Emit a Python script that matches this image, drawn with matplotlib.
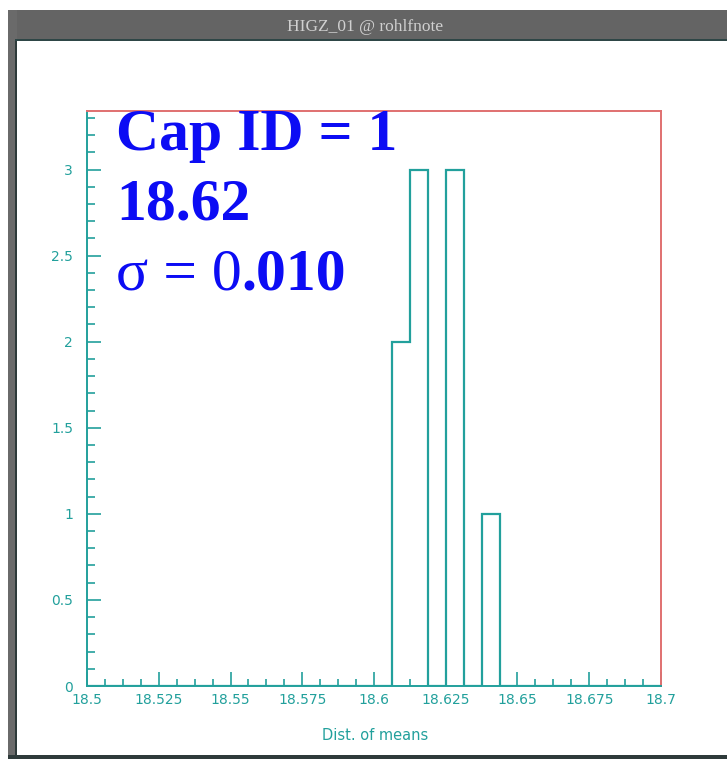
import numpy as np
import matplotlib
matplotlib.use("Agg")
from matplotlib import pyplot as plt
from matplotlib.patches import Rectangle
from matplotlib.ticker import MultipleLocator

# histogram of the means, 32 bins between 18.5 and 18.7
bin_lo = 18.5
bin_hi = 18.7
nbins = 32
counts = [0]*17 + [2, 3, 0, 3, 0, 1] + [0]*9

ymax = 3.34
xticks = [18.5, 18.525, 18.55, 18.575, 18.6, 18.625, 18.65, 18.675, 18.7]
xticklabels = ["18.5", "18.525", "18.55", "18.575", "18.6", "18.625", "18.65", "18.675", "18.7"]
yticks = [0, 0.5, 1, 1.5, 2, 2.5, 3]
yticklabels = ["0", "0.5", "1", "1.5", "2", "2.5", "3"]

title_txt = "HIGZ_01 @ rohlfnote"
xlabel_txt = "Dist. of means"
cap_txt = "Cap ID = 1"
mean_txt = "18.62"

teal = "#22a09c"
blue = "#0c0cf4"

W, H = 727, 761
fig = plt.figure(figsize=(W/100, H/100), dpi=100)

def px(x, y, w, h):
    # pixel box (from top-left) -> figure fraction
    return (x/W, 1 - (y + h)/H, w/W, h/H)

# window chrome
for (x, y, w, h, c) in [(8, 10, 719, 31, "#646464"), (8, 10, 9, 748, "#6a6a6a"),
                        (8, 755, 719, 4, "#2e3a3a"), (15, 40, 2, 716, "#2e3a3a"),
                        (15, 39, 712, 2, "#2e4646")]:
    r = Rectangle(px(x, y, w, h)[:2], w/W, h/H, transform=fig.transFigure,
                  facecolor=c, edgecolor="none", zorder=0)
    fig.patches.append(r)
fig.text(365/W, 1 - 27/H, title_txt, color="#d0d0d0", fontsize=12.5,
         family="Liberation Serif", ha="center", va="center")

ax = fig.add_axes([87/W, 1 - 686/H, (661-87)/W, (686-111)/H])
edges = np.linspace(bin_lo, bin_hi, nbins + 1)
ax.stairs(counts, edges, color=teal, linewidth=1.6)
ax.set_xlim(bin_lo, bin_hi)
ax.set_ylim(0, ymax)

for s in ax.spines.values():
    s.set_color(teal)
    s.set_linewidth(1.4)
ax.spines["top"].set_color("#e07070")
ax.spines["right"].set_color("#e07070")

ax.set_xticks(xticks)
ax.set_xticklabels(xticklabels)
ax.set_yticks(yticks)
ax.set_yticklabels(yticklabels)
ax.xaxis.set_minor_locator(MultipleLocator(0.00625))
ax.yaxis.set_minor_locator(MultipleLocator(0.1))
ax.tick_params(which="both", direction="in", colors=teal, labelcolor=teal,
               labelsize=10, width=1.2)
ax.tick_params(axis="x", which="major", length=10, pad=5)
ax.tick_params(axis="x", which="minor", length=5)
ax.tick_params(axis="y", which="major", length=10, pad=10)
ax.tick_params(axis="y", which="minor", length=6)

fig.text(375/W, 1 - 735/H, xlabel_txt, color=teal, fontsize=10.5, ha="center", va="center")

# big blue annotation
fs = 43
serif = "Liberation Serif"
fig.text(116/W, 1 - 150/H, cap_txt, color=blue, fontsize=fs, family=serif,
         weight="bold", va="baseline")
fig.text(116/W, 1 - 219/H, mean_txt, color=blue, fontsize=fs, family=serif,
         weight="bold", va="baseline")
t1 = fig.text(116/W, 1 - 290/H, "\u03c3 = 0", color=blue, fontsize=fs, family=serif,
              va="baseline")
ax.annotate(".010", xy=(1, 0), xycoords=t1, xytext=(0, 0), textcoords="offset points",
            color=blue, fontsize=fs, family=serif, weight="bold", va="bottom", ha="left",
            annotation_clip=False)

fig.savefig("out.png", dpi=100, facecolor="white")
